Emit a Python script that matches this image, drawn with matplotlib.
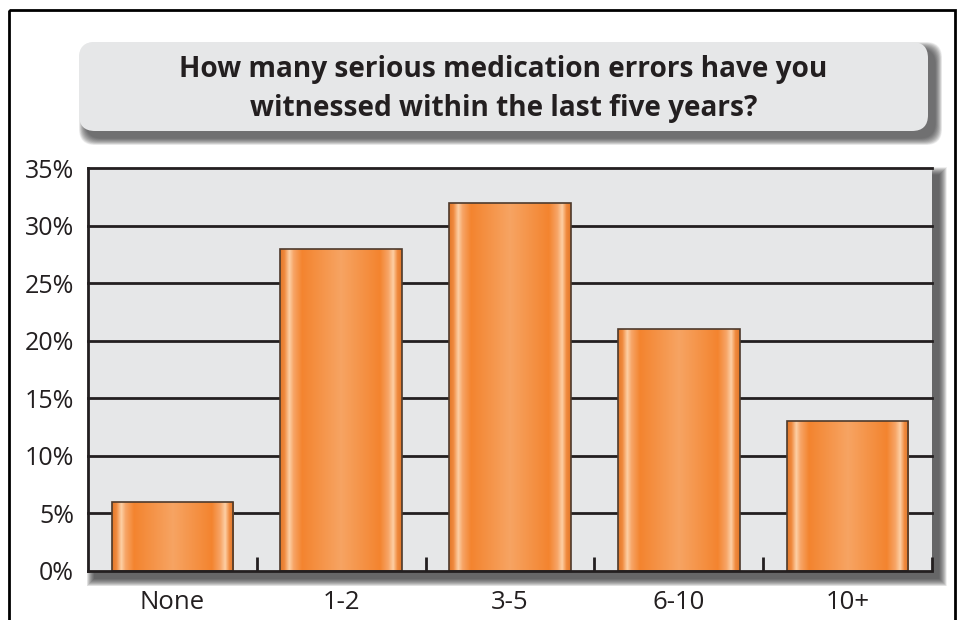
import numpy as np
import matplotlib
matplotlib.use('Agg')
import matplotlib.pyplot as plt
from matplotlib.patches import Rectangle, FancyBboxPatch
from matplotlib.colors import LinearSegmentedColormap

categories = ["None", "1-2", "3-5", "6-10", "10+"]
values = [6, 28, 32, 21, 13]
yticks = [0, 5, 10, 15, 20, 25, 30, 35]
ytick_labels = [f"{v}%" for v in yticks]
title = "How many serious medication errors have you\nwitnessed within the last five years?"

W, H = 962, 620
plt.rcParams['font.family'] = ['Open Sans', 'DejaVu Sans']
TXT = '#231f20'
PANEL = '#e6e7e8'

fig = plt.figure(figsize=(W / 100, H / 100), dpi=100)
fig.patch.set_facecolor('white')

# background layer in pixel coords
bg = fig.add_axes([0, 0, 1, 1], zorder=0)
bg.set_xlim(0, W)
bg.set_ylim(H, 0)
bg.axis('off')

bg.add_patch(Rectangle((9, 10), 946, 630, fill=False, ec='black', lw=2))


def soft_shadow(ax, x, y, w, h, off=6, blur=12, rounded=0, alpha=0.075):
    # stack of shrinking translucent boxes -> blurred drop shadow
    for i in range(blur):
        xy = (x + off - blur / 2 + i / 2, y + off - blur / 2 + i / 2)
        ww, hh = w + blur - i, h + blur - i
        if rounded:
            p = FancyBboxPatch(xy, ww, hh,
                               boxstyle=f"round,pad=0,rounding_size={rounded}",
                               fc='#2e2e30', ec='none', alpha=alpha)
        else:
            p = Rectangle(xy, ww, hh, fc='#2e2e30', ec='none', alpha=alpha)
        ax.add_patch(p)


# title box
tx0, ty0, tx1, ty1 = 79, 42, 928, 131
soft_shadow(bg, tx0, ty0, tx1 - tx0, ty1 - ty0, off=7, blur=14, rounded=16)
bg.add_patch(FancyBboxPatch((tx0, ty0), tx1 - tx0, ty1 - ty0,
                            boxstyle="round,pad=0,rounding_size=16",
                            fc=PANEL, ec='none'))
bg.text(503.5, 89, title, ha='center', va='center',
        fontsize=20.2, fontweight='bold', color=TXT, linespacing=1.45)

# plot area
px0, py0, px1, py1 = 88, 168, 932, 571
soft_shadow(bg, px0, py0, px1 - px0, py1 - py0, off=7, blur=16)

ax = fig.add_axes([px0 / W, 1 - py1 / H, (px1 - px0) / W, (py1 - py0) / H], zorder=1)
ax.set_facecolor(PANEL)
x = np.arange(len(categories))

for v in yticks[1:]:
    ax.axhline(v, color='#231f20', lw=2, zorder=1, clip_on=False)

# bar gradient (cylinder look)
grad_cmap = LinearSegmentedColormap.from_list('cyl', [
    (0.0, '#e2782a'), (0.035, '#f08a3e'), (0.075, '#fdd0a6'), (0.11, '#f7a567'),
    (0.18, '#f3842f'), (0.5, '#f7a463'), (0.82, '#f3842f'), (0.89, '#f7a567'),
    (0.93, '#fdcfa4'), (0.965, '#f08a3e'), (1.0, '#e2782a')])
grad = np.linspace(0, 1, 256).reshape(1, -1)

bw = 0.72
bars = ax.bar(x, values, width=bw, color='none', edgecolor='#4d3a2c', lw=1.2, zorder=3)
for b in bars:
    im = ax.imshow(grad, cmap=grad_cmap, aspect='auto', zorder=2,
                   extent=[b.get_x(), b.get_x() + b.get_width(), 0, b.get_height()])
    im.set_clip_path(b)

ax.set_xlim(-0.5, len(categories) - 0.5)
ax.set_ylim(0, 35)

for s in ['top', 'right']:
    ax.spines[s].set_visible(False)
for s in ['left', 'bottom']:
    ax.spines[s].set_color('#231f20')
    ax.spines[s].set_linewidth(2)
    ax.spines[s].set_zorder(4)

ax.set_yticks(yticks)
ax.set_yticklabels(ytick_labels)
ax.tick_params(axis='y', length=0, pad=10, labelsize=18, labelcolor=TXT)
ax.set_xticks(x)
ax.set_xticklabels(categories)
ax.tick_params(axis='x', which='major', length=0, pad=14, labelsize=18.5, labelcolor=TXT)
ax.set_xticks(np.arange(len(categories)) + 0.5, minor=True)
ax.tick_params(axis='x', which='minor', direction='in', length=10, width=2, color='#231f20')

fig.savefig('out.png', dpi=100)
